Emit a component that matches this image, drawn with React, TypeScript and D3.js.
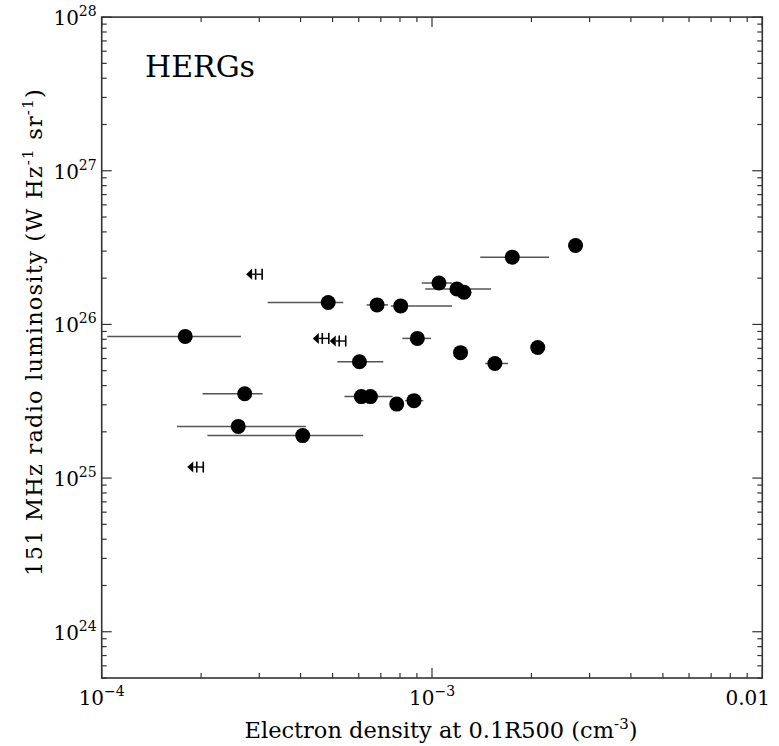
import React from "react";
import * as d3 from "d3";

// Detections: electron density (x), luminosity (y), x error range
const detX = [1.79e-4, 2.71e-4, 2.59e-4, 4.06e-4, 4.85e-4, 6.03e-4, 6.11e-4, 6.51e-4, 6.82e-4, 8.04e-4, 7.82e-4, 8.82e-4, 9.03e-4, 1.05e-3, 1.19e-3, 1.25e-3, 1.22e-3, 1.55e-3, 1.75e-3, 2.09e-3, 2.72e-3];
const detY = [8.36e25, 3.54e25, 2.17e25, 1.89e25, 1.39e26, 5.72e25, 3.39e25, 3.39e25, 1.34e26, 1.32e26, 3.03e25, 3.19e25, 8.11e25, 1.86e26, 1.70e26, 1.62e26, 6.55e25, 5.57e25, 2.74e26, 7.08e25, 3.26e26];
const detXLo = [1.04e-4, 2.02e-4, 1.69e-4, 2.09e-4, 3.18e-4, 5.17e-4, 5.43e-4, 5.8e-4, 6.34e-4, 7.5e-4, 7.82e-4, 8.29e-4, 8.13e-4, 9.31e-4, 9.54e-4, 1.2e-3, 1.22e-3, 1.45e-3, 1.40e-3, 2.09e-3, 2.65e-3];
const detXHi = [2.64e-4, 3.07e-4, 4.15e-4, 6.19e-4, 5.39e-4, 7.12e-4, 6.9e-4, 7.6e-4, 7.36e-4, 1.15e-3, 7.82e-4, 9.41e-4, 9.93e-4, 1.15e-3, 1.51e-3, 1.3e-3, 1.22e-3, 1.70e-3, 2.26e-3, 2.09e-3, 2.80e-3];

// Upper limits in electron density
const limX = [3.06e-4, 4.87e-4, 5.48e-4, 2.03e-4];
const limY = [2.12e26, 8.11e25, 7.80e25, 1.18e25];

const yTickExps = [24, 25, 26, 27, 28];
const xTickLabels = [
  { v: 1e-4, base: "10", exp: "\u22124" },
  { v: 1e-3, base: "10", exp: "\u22123" },
];

const W = 779;
const H = 746;
const L = 101.7, R = 762.3, T = 17.1, B = 678;
const FONT = "DejaVu Serif";

export default function App() {
  const x = d3.scaleLog().domain([1e-4, 1e-2]).range([L, R]);
  const y = d3.scaleLog().domain([5e23, 1e28]).range([B, T]);

  const xMajor = [1e-4, 1e-3, 1e-2];
  const xMinor: number[] = [];
  for (const d of [1e-4, 1e-3]) for (let k = 2; k <= 9; k++) xMinor.push(d * k);
  const yMajor = yTickExps.map((e) => Math.pow(10, e));
  const yMinor: number[] = [];
  for (const e of [23, 24, 25, 26, 27]) for (let k = 2; k <= 9; k++) {
    const v = k * Math.pow(10, e);
    if (v >= 5e23 && v <= 1e28) yMinor.push(v);
  }

  const axisColor = "#333";
  const major = 10, minor = 5;

  return (
    <svg width={W} height={H} style={{ position: "absolute", left: 0, top: 0, background: "#fff" }}>
      <rect x={0} y={0} width={W} height={H} fill="#fff" />
      {/* error bars */}
      <g stroke="#555" strokeWidth={1.5}>
        {detX.map((_, i) => (
          <line key={i} x1={x(detXLo[i])} x2={x(detXHi[i])} y1={y(detY[i])} y2={y(detY[i])} />
        ))}
      </g>
      {/* upper limit symbols */}
      <g>
        {limX.map((v, i) => {
          const px = x(v), py = y(limY[i]);
          return (
            <g key={i}>
              <path d={`M${px - 16},${py} L${px - 10},${py - 5.5} L${px - 10},${py + 5.5} Z`} fill="#000" />
              <line x1={px - 10} x2={px} y1={py} y2={py} stroke="#000" strokeWidth={1.4} />
              <line x1={px - 6.5} x2={px - 6.5} y1={py - 5.5} y2={py + 5.5} stroke="#000" strokeWidth={1.6} />
              <line x1={px} x2={px} y1={py - 5.5} y2={py + 5.5} stroke="#000" strokeWidth={1.6} />
            </g>
          );
        })}
      </g>
      {/* points */}
      <g fill="#000">
        {detX.map((v, i) => (
          <circle key={i} cx={x(v)} cy={y(detY[i])} r={7.5} />
        ))}
      </g>
      {/* frame */}
      <rect x={L} y={T} width={R - L} height={B - T} fill="none" stroke={axisColor} strokeWidth={1.6} />
      {/* ticks */}
      <g stroke={axisColor} strokeWidth={1.2}>
        {xMajor.map((v, i) => (
          <g key={"xm" + i}>
            <line x1={x(v)} x2={x(v)} y1={B} y2={B - major} />
            <line x1={x(v)} x2={x(v)} y1={T} y2={T + major} />
          </g>
        ))}
        {xMinor.map((v, i) => (
          <g key={"xn" + i}>
            <line x1={x(v)} x2={x(v)} y1={B} y2={B - minor} />
            <line x1={x(v)} x2={x(v)} y1={T} y2={T + minor} />
          </g>
        ))}
        {yMajor.map((v, i) => (
          <g key={"ym" + i}>
            <line x1={L} x2={L + major} y1={y(v)} y2={y(v)} />
            <line x1={R} x2={R - major} y1={y(v)} y2={y(v)} />
          </g>
        ))}
        {yMinor.map((v, i) => (
          <g key={"yn" + i}>
            <line x1={L} x2={L + minor} y1={y(v)} y2={y(v)} />
            <line x1={R} x2={R - minor} y1={y(v)} y2={y(v)} />
          </g>
        ))}
      </g>
      {/* y tick labels */}
      <g fontFamily={FONT} fill="#000">
        {yTickExps.map((e, i) => (
          <text key={i} x={L - 5} y={y(Math.pow(10, e)) + 8} textAnchor="end" fontSize={20}>
            10<tspan fontSize={14} dy={-9}>{e}</tspan>
          </text>
        ))}
      </g>
      {/* x tick labels */}
      <g fontFamily={FONT} fill="#000">
        {xTickLabels.map((t, i) => (
          <text key={i} x={x(t.v)} y={705} textAnchor="middle" fontSize={20}>
            {t.base}<tspan fontSize={14} dy={-9}>{t.exp}</tspan>
          </text>
        ))}
        <text x={770} y={705} textAnchor="end" fontSize={20}>0.01</text>
      </g>
      {/* axis labels */}
      <text x={441} y={738} textAnchor="middle" fontFamily={FONT} fontSize={22.5} fill="#000">
        Electron density at 0.1R500 (cm<tspan fontSize={15} dy={-9}>-3</tspan><tspan dy={9}>)</tspan>
      </text>
      <text transform={`translate(42,332) rotate(-90)`} textAnchor="middle" fontFamily={FONT} fontSize={22.5} letterSpacing={1.2} fill="#000">
        151 MHz radio luminosity (W Hz<tspan fontSize={15} dy={-9}>-1</tspan><tspan dy={9}> sr</tspan><tspan fontSize={15} dy={-9}>-1</tspan><tspan dy={9}>)</tspan>
      </text>
      <text x={145} y={77} fontFamily={FONT} fontSize={30} fill="#000">HERGs</text>
    </svg>
  );
}
